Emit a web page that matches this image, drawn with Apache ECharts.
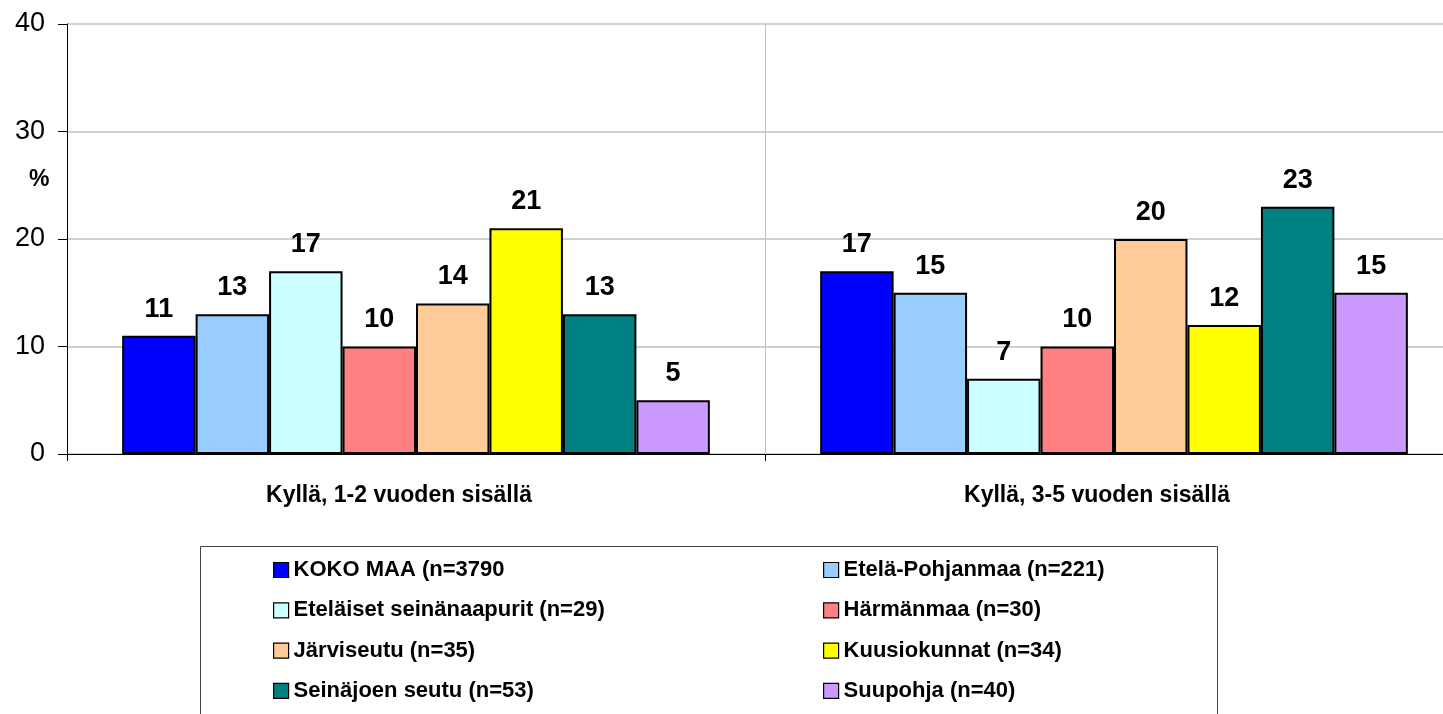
<!DOCTYPE html>
<html>
<head>
<meta charset="utf-8">
<script src="https://cdn.jsdelivr.net/npm/echarts@6/dist/echarts.min.js"></script>
<style>
  html, body { margin: 0; padding: 0; background: #fff; overflow: hidden; }
  #chart { width: 1463px; height: 714px; }
</style>
</head>
<body>
<div id="chart"></div>
<script>
// luokat (x-akseli)
const categories = ['Kyllä, 1-2 vuoden sisällä', 'Kyllä, 3-5 vuoden sisällä']
const yTicks = [0, 10, 20, 30, 40]

// sarjat
const seriesNames = [
  'KOKO MAA (n=3790',
  'Etelä-Pohjanmaa (n=221)',
  'Eteläiset seinänaapurit (n=29)',
  'Härmänmaa (n=30)',
  'Järviseutu (n=35)',
  'Kuusiokunnat (n=34)',
  'Seinäjoen seutu (n=53)',
  'Suupohja (n=40)'
]
const kokoMaa = [11, 17]
const etelaPohjanmaa = [13, 15]
const etelaisetSeinanaapurit = [17, 7]
const harmanmaa = [10, 10]
const jarviseutu = [14, 20]
const kuusiokunnat = [21, 12]
const seinajoenSeutu = [13, 23]
const suupohja = [5, 15]
const seriesValues = [kokoMaa, etelaPohjanmaa, etelaisetSeinanaapurit, harmanmaa, jarviseutu, kuusiokunnat, seinajoenSeutu, suupohja]

const colors = ['#0000FF', '#99CCFF', '#CCFFFF', '#FF8080', '#FFCC99', '#FFFF00', '#008080', '#CC99FF']
const FONT = 'Liberation Sans, Arial, sans-serif'

const chart = echarts.init(document.getElementById('chart'), null, { renderer: 'canvas' })

const series = seriesNames.map((name, i) => ({
  name: name,
  type: 'bar',
  data: seriesValues[i],
  barGap: '0%',
  barCategoryGap: '15.8%',
  itemStyle: { color: colors[i], borderColor: '#000', borderWidth: 2 },
  label: {
    show: true,
    position: 'top',
    distance: 13,
    color: '#000',
    fontFamily: FONT,
    fontWeight: 'bold',
    fontSize: 27
  }
}))

const legendText = { fontFamily: FONT, fontWeight: 'bold', fontSize: 22, color: '#000' }

const option = {
  animation: false,
  grid: { left: 67, right: 0, top: 24, bottom: 260 },
  xAxis: {
    type: 'category',
    data: categories,
    axisLine: { show: true, lineStyle: { color: '#000', width: 1 } },
    axisTick: { show: true, length: 7, lineStyle: { color: '#000' } },
    splitLine: { show: true, lineStyle: { color: '#c0c0c0', width: 1 } },
    axisLabel: { margin: 30, padding: [0, 34, 0, 0], fontFamily: FONT, fontWeight: 'bold', fontSize: 23, color: '#000' }
  },
  yAxis: {
    type: 'value',
    min: yTicks[0],
    max: yTicks[yTicks.length - 1],
    interval: 10,
    axisLine: { show: true, lineStyle: { color: '#000', width: 1 } },
    axisTick: { show: true, length: 9, lineStyle: { color: '#000' } },
    splitLine: { show: true, lineStyle: { color: '#c0c0c0', width: 1.5 } },
    axisLabel: { margin: 22, fontFamily: FONT, fontSize: 27, color: '#000' }
  },
  legend: [
    {
      orient: 'vertical',
      left: 268,
      top: 554,
      itemWidth: 15,
      itemHeight: 15,
      itemGap: 18.3,
      icon: 'rect',
      textStyle: legendText,
      itemStyle: { borderColor: '#000', borderWidth: 1.2 },
      data: [seriesNames[0], seriesNames[2], seriesNames[4], seriesNames[6]]
    },
    {
      orient: 'vertical',
      left: 818,
      top: 554,
      itemWidth: 15,
      itemHeight: 15,
      itemGap: 18.3,
      icon: 'rect',
      textStyle: legendText,
      itemStyle: { borderColor: '#000', borderWidth: 1.2 },
      data: [seriesNames[1], seriesNames[3], seriesNames[5], seriesNames[7]]
    }
  ],
  graphic: [
    {
      type: 'rect',
      shape: { x: 200.5, y: 546.5, width: 1017, height: 200 },
      style: { fill: 'none', stroke: '#444', lineWidth: 1 },
      silent: true
    },
    {
      type: 'text',
      left: 29,
      top: 168,
      style: { text: '%', fontFamily: FONT, fontWeight: 'bold', fontSize: 23, fill: '#000' }
    }
  ],
  series: series
}

chart.setOption(option)
</script>
</body>
</html>
